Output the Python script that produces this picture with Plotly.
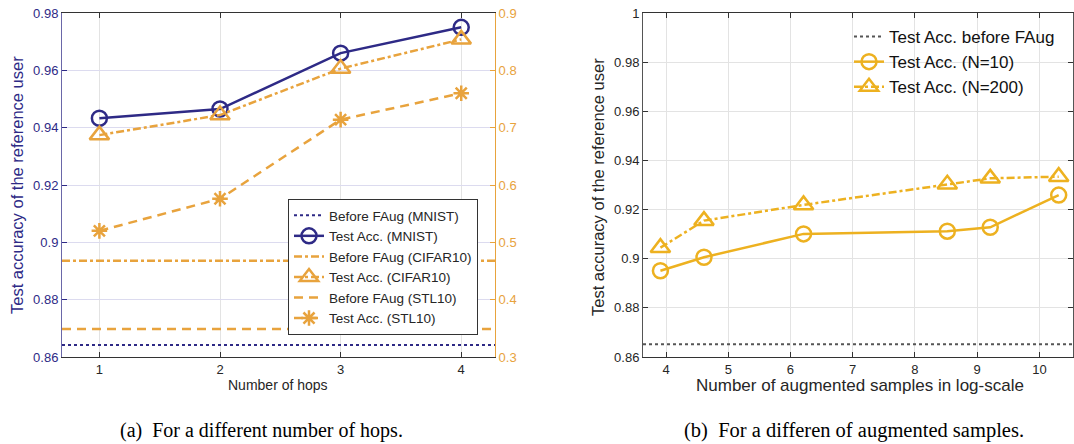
import plotly.graph_objects as go

# ---------------- data ----------------
hops = [1, 2, 3, 4]
mnist_test = [0.9433, 0.9465, 0.9660, 0.9750]
cifar_test = [0.687, 0.722, 0.803, 0.854]
stl_test = [0.520, 0.576, 0.714, 0.760]
mnist_before = 0.8642
cifar_before = 0.468
stl_before = 0.349

log_samples = [3.91, 4.61, 6.21, 8.52, 9.21, 10.31]
acc_n10 = [0.8951, 0.9006, 0.9101, 0.9112, 0.9128, 0.9259]
acc_n200 = [0.9045, 0.9155, 0.9219, 0.9303, 0.9327, 0.9334]
before_b = 0.8652

left_ticks = [0.86, 0.88, 0.9, 0.92, 0.94, 0.96, 0.98]
left_ticklabels = ["0.86", "0.88", "0.9", "0.92", "0.94", "0.96", "0.98"]
right_ticks = [0.3, 0.4, 0.5, 0.6, 0.7, 0.8, 0.9]
right_ticklabels = ["0.3", "0.4", "0.5", "0.6", "0.7", "0.8", "0.9"]
b_yticks = [0.86, 0.88, 0.9, 0.92, 0.94, 0.96, 0.98, 1.0]
b_yticklabels = ["0.86", "0.88", "0.9", "0.92", "0.94", "0.96", "0.98", "1"]
b_xticks = [4, 5, 6, 7, 8, 9, 10]

# ---------------- style ----------------
W, H = 1074, 444
NAVY = "#2E2A86"
ORANGE = "#E8A33D"
YELLOW = "#EDB120"
FONT = "Liberation Sans, Arial, sans-serif"
SERIF = "Liberation Serif, Times New Roman, serif"
DASHDOT = "8px,3px,3px,3px"
DASH = "9px,6px"

xa_range = [0.69, 4.28]
xb_range = [3.63, 10.54]


def px_x(p):
    return p / W


def px_y(p):
    return 1 - p / H


fig = go.Figure()

# ---- left plot ----
fig.add_trace(go.Scatter(x=xa_range, y=[mnist_before] * 2, mode="lines",
                         line=dict(color=NAVY, width=2, dash="dot"),
                         name="Before FAug (MNIST)", xaxis="x", yaxis="y", legend="legend"))
fig.add_trace(go.Scatter(x=hops, y=mnist_test, mode="lines+markers",
                         line=dict(color=NAVY, width=2.5),
                         marker=dict(symbol="circle-open", size=15, color=NAVY, line=dict(width=2.5)),
                         name="Test Acc. (MNIST)", xaxis="x", yaxis="y", legend="legend"))
fig.add_trace(go.Scatter(x=xa_range, y=[cifar_before] * 2, mode="lines",
                         line=dict(color=ORANGE, width=2.5, dash=DASHDOT),
                         name="Before FAug (CIFAR10)", xaxis="x", yaxis="y2", legend="legend"))
fig.add_trace(go.Scatter(x=hops, y=cifar_test, mode="lines+markers",
                         line=dict(color=ORANGE, width=2.5, dash=DASHDOT),
                         marker=dict(symbol="triangle-up-open", size=17, color=ORANGE, line=dict(width=2.5)),
                         name="Test Acc. (CIFAR10)", xaxis="x", yaxis="y2", legend="legend"))
fig.add_trace(go.Scatter(x=xa_range, y=[stl_before] * 2, mode="lines",
                         line=dict(color=ORANGE, width=2.5, dash=DASH),
                         name="Before FAug (STL10)", xaxis="x", yaxis="y2", legend="legend"))
fig.add_trace(go.Scatter(x=hops, y=stl_test, mode="lines+markers",
                         line=dict(color=ORANGE, width=2.5, dash=DASH),
                         marker=dict(symbol="asterisk-open", size=13, color=ORANGE, line=dict(width=2.5, color=ORANGE)),
                         name="Test Acc. (STL10)", xaxis="x", yaxis="y2", legend="legend"))

# ---- right plot ----
fig.add_trace(go.Scatter(x=xb_range, y=[before_b] * 2, mode="lines",
                         line=dict(color="#555555", width=2, dash="dot"),
                         name="Test Acc. before FAug", xaxis="x3", yaxis="y3", legend="legend2"))
fig.add_trace(go.Scatter(x=log_samples, y=acc_n10, mode="lines+markers",
                         line=dict(color=YELLOW, width=2.5),
                         marker=dict(symbol="circle-open", size=15, color=YELLOW, line=dict(width=2.5)),
                         name="Test Acc. (N=10)", xaxis="x3", yaxis="y3", legend="legend2"))
fig.add_trace(go.Scatter(x=log_samples, y=acc_n200, mode="lines+markers",
                         line=dict(color=YELLOW, width=2.5, dash=DASHDOT),
                         marker=dict(symbol="triangle-up-open", size=17, color=YELLOW, line=dict(width=2.5)),
                         name="Test Acc. (N=200)", xaxis="x3", yaxis="y3", legend="legend2"))

tickfont = dict(family=FONT, size=13, color="#262626")

fig.update_layout(
    template="none",
    width=W, height=H,
    margin=dict(l=0, r=0, t=0, b=0, pad=0),
    paper_bgcolor="white", plot_bgcolor="white",
    font=dict(family=FONT, size=13, color="#262626"),
    xaxis=dict(domain=[px_x(62), px_x(495)], range=xa_range, tickvals=hops,
               ticks="inside", ticklen=5, tickcolor="#333", showline=True, linecolor="#333",
               linewidth=1, mirror="ticks", showgrid=True, gridcolor="#E3E3E3", gridwidth=1,
               zeroline=False, tickfont=tickfont, anchor="y", automargin=False),
    yaxis=dict(domain=[px_y(357), px_y(13)], range=[0.86, 0.98], tickvals=left_ticks,
               ticktext=left_ticklabels, ticks="inside", ticklen=5, tickcolor=NAVY,
               showline=True, linecolor="#6A67A8", linewidth=1, showgrid=True, gridwidth=1,
               gridcolor="#DCDBEF", zeroline=False, tickfont=dict(family=FONT, size=13, color=NAVY),
               anchor="x", automargin=False),
    yaxis2=dict(overlaying="y", side="right", range=[0.3, 0.9], tickvals=right_ticks,
                ticktext=right_ticklabels, ticks="inside", ticklen=5, tickcolor=ORANGE,
                showline=True, linecolor=ORANGE, linewidth=1, showgrid=False, zeroline=False,
                tickfont=dict(family=FONT, size=13, color=ORANGE), anchor="x", automargin=False),
    xaxis3=dict(domain=[px_x(643), px_x(1073)], range=xb_range, tickvals=b_xticks,
                ticks="inside", ticklen=5, tickcolor="#333", showline=True, linecolor="#333",
                linewidth=1, mirror="ticks", showgrid=True, gridcolor="#E3E3E3", gridwidth=1,
                zeroline=False, tickfont=tickfont, anchor="y3", automargin=False),
    yaxis3=dict(domain=[px_y(357), px_y(13)], range=[0.86, 1.0], tickvals=b_yticks,
                ticktext=b_yticklabels, ticks="inside", ticklen=5, tickcolor="#333",
                showline=True, linecolor="#555", linewidth=1, mirror="ticks", showgrid=True,
                gridcolor="#E3E3E3", gridwidth=1, zeroline=False, tickfont=tickfont,
                anchor="x3", automargin=False),
    legend=dict(x=px_x(288), y=px_y(199), xanchor="left", yanchor="top",
                bgcolor="white", bordercolor="#333", borderwidth=1,
                font=dict(family=FONT, size=13.5, color="#262626"),
                itemwidth=30, tracegroupgap=0),
    legend2=dict(x=px_x(849), y=px_y(19), xanchor="left", yanchor="top",
                 bgcolor="rgba(255,255,255,0)", borderwidth=0,
                 font=dict(family=FONT, size=17, color="#111"),
                 itemwidth=30, tracegroupgap=0),
    showlegend=True,
)

annotations = [
    dict(text="Test accuracy of the reference user", x=px_x(17), y=px_y(185),
         font=dict(family=FONT, size=16.5, color=NAVY), textangle=-90),
    dict(text="Number of hops", x=px_x(278), y=px_y(385),
         font=dict(family=FONT, size=14, color="#262626")),
    dict(text="Test accuracy of the reference user", x=px_x(598), y=px_y(187),
         font=dict(family=FONT, size=16.5, color="#262626"), textangle=-90),
    dict(text="Number of augmented samples in log-scale", x=px_x(860), y=px_y(385),
         font=dict(family=FONT, size=17, color="#262626")),
    dict(text="(a)  For a different number of hops.", x=px_x(261), y=px_y(430),
         font=dict(family=SERIF, size=20, color="black")),
    dict(text="(b)  For a differen of augmented samples.", x=px_x(854), y=px_y(430),
         font=dict(family=SERIF, size=20.5, color="black")),
]
for a in annotations:
    a.update(xref="paper", yref="paper", xanchor="center", yanchor="middle", showarrow=False)
fig.update_layout(annotations=annotations)

fig.write_html("out.html")
